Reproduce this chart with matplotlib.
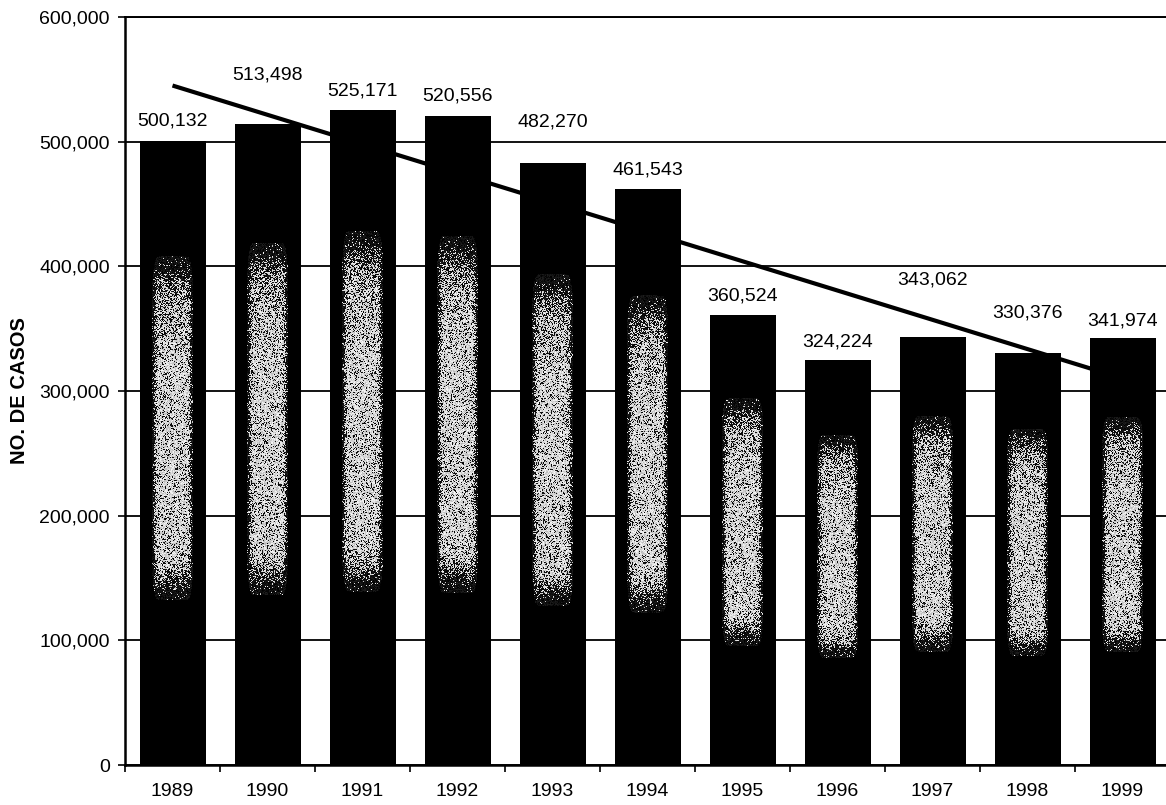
import numpy as np
import matplotlib
matplotlib.use("Agg")
import matplotlib.pyplot as plt
from matplotlib.ticker import FuncFormatter, FixedLocator

# Cases per year
years = ['1989', '1990', '1991', '1992', '1993', '1994',
         '1995', '1996', '1997', '1998', '1999']
cases = [500132, 513498, 525171, 520556, 482270, 461543,
         360524, 324224, 343062, 330376, 341974]
y_ticks = [0, 100000, 200000, 300000, 400000, 500000, 600000]

# vertical offset (pixels) of each value label above its bar;
# some labels are lifted further to keep clear of the trend line
label_lift = [21, 50, 19, 20, 42, 20, 20, 19, 57, 40, 18]

plt.rcParams['font.family'] = ['Liberation Sans', 'DejaVu Sans']

W, H = 1166, 805
fig = plt.figure(figsize=(W / 100, H / 100), dpi=100)
ax = fig.add_axes([125 / W, 40 / H, 1045 / W, 748 / H])

x = np.arange(len(years))
bar_w = 0.69

ax.bar(x, cases, width=bar_w, color='black', zorder=2)

# grainy grey shading inside each bar
rng = np.random.default_rng(11)


def plateau(t, lo, hi, soft):
    return 1 / (1 + np.exp(-(t - lo) / soft)) / (1 + np.exp((t - hi) / soft))


for xi, val in zip(x, cases):
    ny = max(int(val / 600000 * 748), 10)
    nx = 66
    u = np.linspace(0, 1, nx)
    v = np.linspace(0, 1, ny)
    fx = plateau(u, 0.22, 0.77, 0.015)
    fy = plateau(v, 0.30, 0.78, 0.012)
    fade = 1 - 0.30 * np.clip((v - 0.64) / 0.14, 0, 1)
    prob = 0.80 * np.outer(fy * fade, fx)
    dots = rng.random((ny, nx)) < prob
    img = np.where(dots, 0.72 + 0.25 * rng.random((ny, nx)), 0.12 * rng.random((ny, nx)))
    img = np.where(np.outer(fy, fx) > 0.05, img, 0.0)
    ax.imshow(img, cmap='gray', vmin=0, vmax=1, origin='lower',
              extent=[xi - bar_w / 2, xi + bar_w / 2, 0, val],
              aspect='auto', interpolation='nearest', zorder=2.5)

# linear trend through the yearly values
coef = np.polyfit(x, cases, 1)
ends = np.array([x[0], x[-1]])
ax.plot(ends, np.polyval(coef, ends), color='black', lw=3.0,
        solid_capstyle='butt', zorder=4)

for xi, val, lift in zip(x, cases, label_lift):
    ax.annotate(f'{val:,}', (xi, val), xytext=(0, lift),
                textcoords='offset pixels', ha='center', va='center',
                fontsize=14, zorder=5)

ax.set_xlim(-0.5, len(years) - 0.5)
ax.set_ylim(0, 600000)

ax.set_yticks(y_ticks)
ax.yaxis.set_major_formatter(FuncFormatter(lambda v, p: f'{int(v):,}'))
ax.tick_params(axis='y', labelsize=14, length=5, width=1.2, pad=6,
               direction='out')

ax.set_xticks(x)
ax.set_xticklabels(years)
ax.xaxis.set_minor_locator(FixedLocator(np.arange(len(years) + 1) - 0.5))
ax.tick_params(axis='x', which='major', length=0, labelsize=14, pad=13)
ax.tick_params(axis='x', which='minor', length=5, width=1.2, direction='out')

ax.yaxis.grid(True, color='black', lw=1.3)
ax.set_axisbelow(True)

for side in ('left', 'bottom'):
    ax.spines[side].set_linewidth(1.8)
ax.spines['top'].set_linewidth(1.4)
ax.spines['right'].set_visible(False)

ax.set_ylabel('NO. DE CASOS', fontsize=14.5, fontweight='bold', va='center')
ax.yaxis.set_label_coords((20 - 125) / 1045, 0.5)

fig.savefig('out.png', dpi=100)
